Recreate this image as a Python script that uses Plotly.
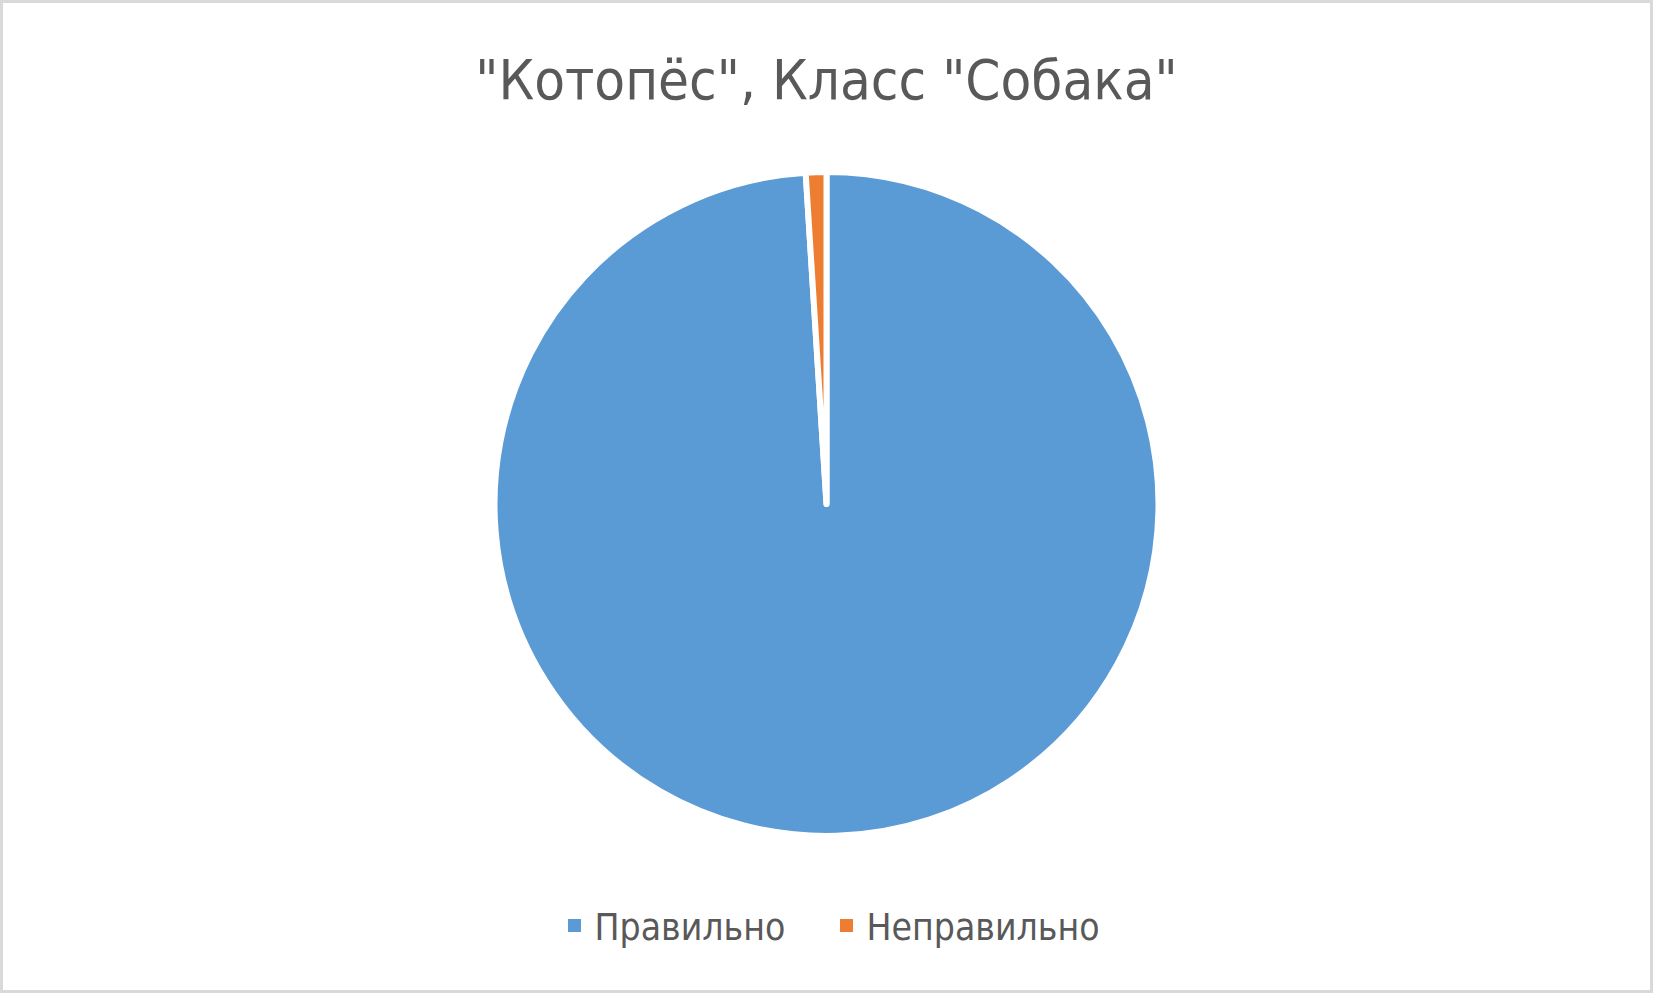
import plotly.graph_objects as go

labels = ["Правильно", "Неправильно"]
values = [99, 1]
colors = ["#5B9BD5", "#ED7D31"]
title_text = '"Котопёс", Класс "Собака"'

W, H = 1653, 993
font_family = "Liberation Sans Narrow, DejaVu Sans Condensed, sans-serif"

fig = go.Figure()
fig.add_trace(go.Pie(
    labels=labels,
    values=values,
    sort=False,
    direction="clockwise",
    rotation=0,
    marker=dict(colors=colors, line=dict(color="white", width=6)),
    textinfo="none",
    hoverinfo="label+value+percent",
    showlegend=False,
    domain=dict(x=[0, 1], y=[1 - 836 / H, 1 - 172 / H]),
))

# legend entries with plain square swatches
for lab, col in zip(labels, colors):
    fig.add_trace(go.Scatter(
        x=[None], y=[None], mode="markers", name=lab,
        marker=dict(symbol="square", size=13, color=col),
        showlegend=True, hoverinfo="skip",
    ))

fig.update_layout(
    width=W, height=H,
    margin=dict(l=0, r=0, t=0, b=0),
    paper_bgcolor="white",
    plot_bgcolor="white",
    xaxis=dict(visible=False),
    yaxis=dict(visible=False),
    title=dict(text=title_text, x=0.5, xanchor="center", y=1 - 79 / H, yanchor="middle",
               yref="container", font=dict(family=font_family, size=56, color="#595959")),
    showlegend=True,
    legend=dict(orientation="h", x=0.5, xanchor="center", y=1 - 926 / H, yanchor="middle",
                font=dict(family=font_family, size=37, color="#595959"),
                itemwidth=30, entrywidth=227, traceorder="normal", bgcolor="rgba(0,0,0,0)"),
    shapes=[dict(type="rect", xref="paper", yref="paper", x0=0, x1=1, y0=0, y1=1,
                 line=dict(color="#d9d9d9", width=6), fillcolor="rgba(0,0,0,0)", layer="above")],
)

fig.write_html("out.html", config={"displayModeBar": False},
               post_script="document.body.style.margin='0';document.body.style.overflow='hidden';")
